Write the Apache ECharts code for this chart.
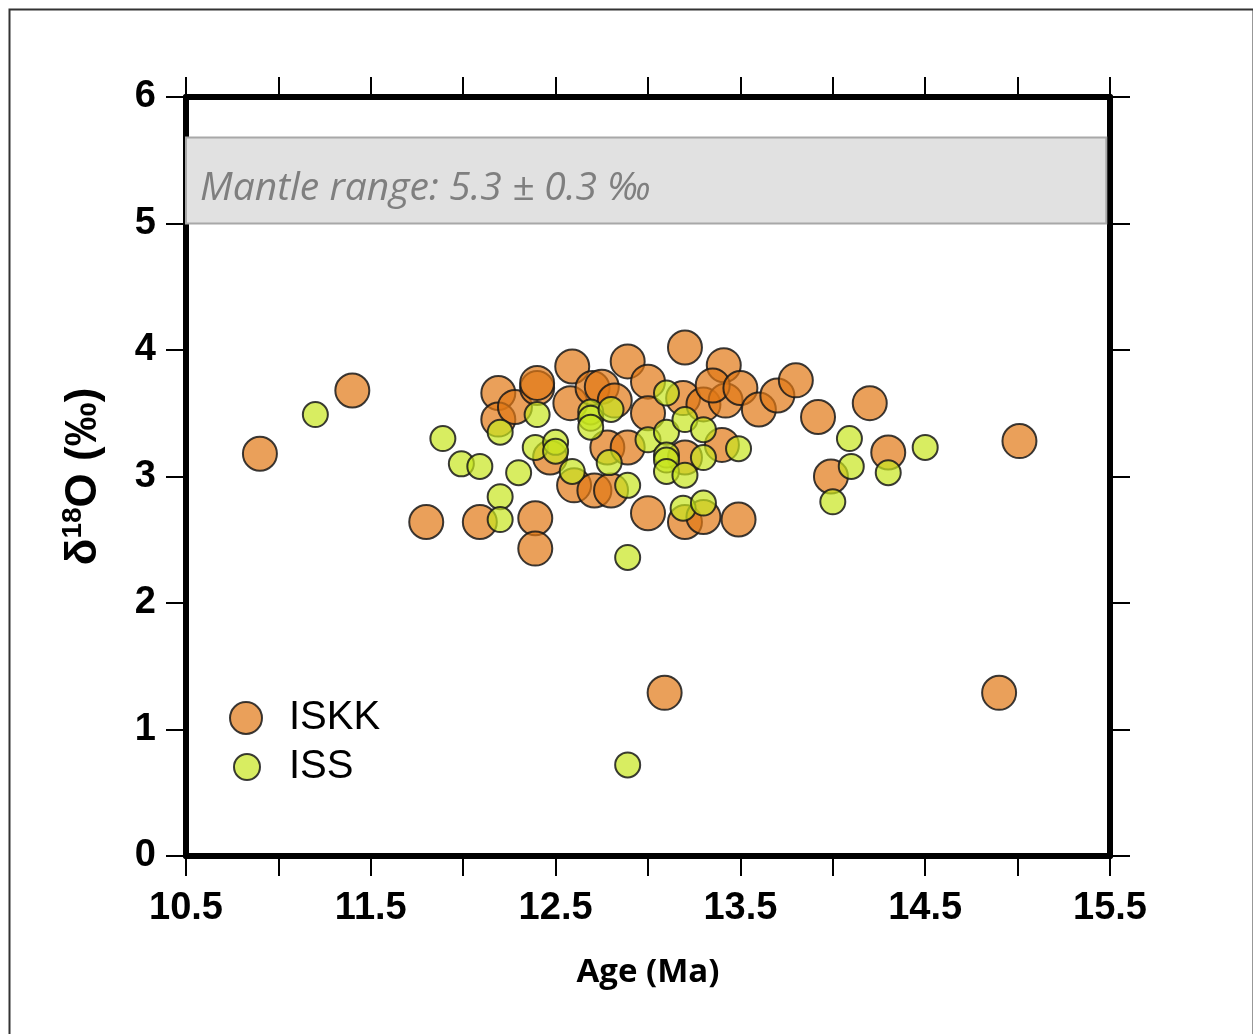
<!DOCTYPE html>
<html>
<head>
<meta charset="utf-8">
<script src="https://cdn.jsdelivr.net/npm/echarts@6/dist/echarts.min.js"></script>
<style>
html,body{margin:0;padding:0;background:#fff;}
#chart{width:1253px;height:1034px;}
</style>
</head>
<body>
<div id="chart"></div>
<script>
// ---- Data (Age in Ma, δ18O in ‰) ----
const iskkAge = [10.90, 11.40, 11.80, 12.09, 12.19, 12.19, 12.28, 12.40, 12.40, 12.39, 12.39, 12.47,
  12.59, 12.58, 12.60, 12.70, 12.75, 12.71, 12.80, 12.82, 12.78, 12.89, 12.89, 13.00, 13.00, 13.00,
  13.20, 13.19, 13.20, 13.20, 13.30, 13.30, 13.41, 13.42, 13.35, 13.40, 13.50, 13.49, 13.60, 13.70,
  13.80, 13.92, 13.99, 14.20, 14.30, 15.01, 13.09, 14.90];
const iskkD18O = [3.18, 3.68, 2.64, 2.64, 3.66, 3.45, 3.55, 3.70, 3.74, 2.67, 2.43, 3.15,
  3.87, 3.58, 2.93, 3.70, 3.71, 2.89, 2.89, 3.60, 3.23, 3.91, 3.23, 3.75, 3.50, 2.71,
  4.02, 3.62, 3.15, 2.64, 3.57, 2.68, 3.88, 3.60, 3.72, 3.25, 3.70, 2.66, 3.53, 3.64,
  3.76, 3.47, 3.00, 3.58, 3.19, 3.28, 1.29, 1.29];

const issAge = [11.20, 11.89, 11.99, 12.09, 12.20, 12.20, 12.20, 12.30, 12.40, 12.39, 12.50, 12.50,
  12.59, 12.69, 12.69, 12.69, 12.80, 12.79, 12.89, 12.89, 12.89, 13.00, 13.10, 13.10, 13.10, 13.10,
  13.10, 13.20, 13.20, 13.19, 13.30, 13.30, 13.30, 13.49, 14.00, 14.09, 14.10, 14.30, 14.50];
const issD18O = [3.49, 3.30, 3.10, 3.08, 2.84, 2.66, 3.35, 3.03, 3.49, 3.23, 3.27, 3.20,
  3.04, 3.51, 3.46, 3.39, 3.53, 3.11, 2.93, 2.36, 0.72, 3.29, 3.66, 3.35, 3.17, 3.13,
  3.04, 3.45, 3.01, 2.75, 3.37, 3.15, 2.79, 3.22, 2.80, 3.30, 3.08, 3.03, 3.23];

const seriesNames = ['ISKK', 'ISS'];
const mantleRange = [5.0, 5.68];
const mantleAgeSpan = [10.5, 15.48];
const mantleLabel = 'Mantle range: 5.3 ± 0.3 ‰';

const xMin = 10.5, xMax = 15.5, xStep = 0.5;
const yMin = 0, yMax = 6, yStep = 1;

const zip = (a, b) => a.map((v, i) => [v, b[i]]);

const chart = echarts.init(document.getElementById('chart'), null, {renderer: 'canvas'});

const tickFont = {color: '#000', fontSize: 38, fontWeight: 'bold', fontFamily: 'Liberation Sans, Arial, sans-serif'};

const option = {
  backgroundColor: '#fff',
  animation: false,
  grid: {left: 186, right: 143, top: 97, bottom: 178, containLabel: false},
  graphic: [{
    type: 'rect', left: 7, top: 7, z: -10, silent: true,
    shape: {width: 1244, height: 1040},
    style: {fill: 'none', stroke: '#333', lineWidth: 2}
  }],
  legend: [{
    data: [seriesNames[0]], left: 224, top: 693, orient: 'vertical',
    itemWidth: 32, itemHeight: 32, icon: 'circle',
    textStyle: {fontSize: 40, color: '#000', fontFamily: 'Liberation Sans, Arial, sans-serif', padding: [0, 0, 0, 22]}
  }, {
    data: [seriesNames[1]], left: 228, top: 742, orient: 'vertical',
    itemWidth: 26, itemHeight: 26, icon: 'circle',
    textStyle: {fontSize: 40, color: '#000', fontFamily: 'Liberation Sans, Arial, sans-serif', padding: [0, 0, 0, 24]}
  }],
  xAxis: [{
    type: 'value', min: xMin, max: xMax, interval: xStep, position: 'bottom',
    name: 'Age (Ma)', nameLocation: 'middle', nameGap: 100,
    nameTextStyle: {fontSize: 33, fontWeight: 'bold', color: '#000', fontFamily: 'Open Sans, sans-serif'},
    axisLine: {show: true, onZero: false, lineStyle: {color: '#000', width: 6}},
    axisTick: {show: true, inside: false, length: 20, lineStyle: {color: '#000', width: 2}},
    axisLabel: {
      margin: 34, ...tickFont,
      formatter: v => (Math.abs(((v - xMin) % 1)) < 1e-6 || Math.abs(((v - xMin) % 1) - 1) < 1e-6) ? v.toFixed(1) : ''
    },
    splitLine: {show: false}
  }, {
    type: 'value', min: xMin, max: xMax, interval: xStep, position: 'top',
    axisLine: {show: true, onZero: false, lineStyle: {color: '#000', width: 6}},
    axisTick: {show: true, inside: false, length: 20, lineStyle: {color: '#000', width: 2}},
    axisLabel: {show: false}, splitLine: {show: false}
  }],
  yAxis: [{
    type: 'value', min: yMin, max: yMax, interval: yStep, position: 'left',
    name: '{b|δ}{s|18}{b|O (‰)}', nameLocation: 'middle', nameGap: 80, nameRotate: 90,
    nameTextStyle: {
      color: '#000',
      rich: {
        b: {fontSize: 44, fontWeight: 'bold', color: '#000', fontFamily: 'Liberation Sans, Arial, sans-serif', lineHeight: 50, verticalAlign: 'bottom'},
        s: {fontSize: 28, fontWeight: 'bold', color: '#000', fontFamily: 'Liberation Sans, Arial, sans-serif', lineHeight: 50, verticalAlign: 'top', padding: [3, 0, 0, 0]}
      }
    },
    axisLine: {show: true, onZero: false, lineStyle: {color: '#000', width: 6}},
    axisTick: {show: true, inside: false, length: 20, lineStyle: {color: '#000', width: 2}},
    axisLabel: {margin: 30, ...tickFont},
    splitLine: {show: false}
  }, {
    type: 'value', min: yMin, max: yMax, interval: yStep, position: 'right',
    axisLine: {show: true, onZero: false, lineStyle: {color: '#000', width: 6}},
    axisTick: {show: true, inside: false, length: 20, lineStyle: {color: '#000', width: 2}},
    axisLabel: {show: false}, splitLine: {show: false}
  }],
  series: [{
    name: 'Mantle', type: 'scatter', data: [], z: 1, silent: true,
    markArea: {
      silent: true,
      itemStyle: {color: '#e1e1e1', borderColor: '#a8a8a8', borderWidth: 2},
      label: {
        show: true, position: 'insideLeft', distance: 15, offset: [0, 8],
        color: '#7f7f7f', fontSize: 39, fontStyle: 'italic', fontFamily: 'Open Sans, sans-serif'
      },
      data: [[{name: mantleLabel, xAxis: mantleAgeSpan[0], yAxis: mantleRange[0]}, {xAxis: mantleAgeSpan[1], yAxis: mantleRange[1]}]]
    }
  }, {
    name: seriesNames[0], type: 'scatter', z: 3,
    symbol: 'circle', symbolSize: 34,
    itemStyle: {color: 'rgba(225,120,20,0.7)', borderColor: 'rgba(25,25,25,0.85)', borderWidth: 2, opacity: 1},
    data: zip(iskkAge, iskkD18O)
  }, {
    name: seriesNames[1], type: 'scatter', z: 4,
    symbol: 'circle', symbolSize: 25,
    itemStyle: {color: 'rgba(200,230,30,0.7)', borderColor: 'rgba(25,25,25,0.85)', borderWidth: 2, opacity: 1},
    data: zip(issAge, issD18O)
  }]
};

chart.setOption(option);
</script>
</body>
</html>
